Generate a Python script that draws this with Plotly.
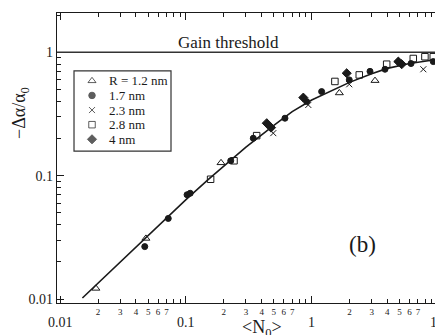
import numpy as np
import plotly.graph_objects as go

# ---------------- data ----------------
curve_n = [0.015, 0.02, 0.03, 0.05, 0.07, 0.1, 0.15, 0.2, 0.3, 0.5, 0.7, 1.0, 1.5, 2.0, 3.0, 4.0, 6.0, 9.6]
curve_y = [0.0102, 0.0135, 0.020, 0.033, 0.046, 0.064, 0.093, 0.120, 0.170, 0.256, 0.330, 0.410, 0.500, 0.570, 0.670, 0.740, 0.810, 0.870]

r12_n = [0.0192, 0.048, 0.19, 1.66, 3.19]
r12_y = [0.0122, 0.031, 0.127, 0.468, 0.589]

r17_n = [0.047, 0.0723, 0.102, 0.108, 0.227, 0.343, 0.613, 0.912, 1.20, 1.99, 2.91, 3.83, 6.17, 9.27]
r17_y = [0.0266, 0.045, 0.070, 0.072, 0.132, 0.201, 0.292, 0.398, 0.48, 0.597, 0.70, 0.728, 0.81, 0.84]

r23_n = [0.495, 0.94, 1.99, 7.73]
r23_y = [0.221, 0.374, 0.55, 0.728]

r28_n = [0.157, 0.241, 0.365, 1.53, 2.39, 3.95, 6.43, 7.96, 9.27]
r28_y = [0.0935, 0.132, 0.211, 0.58, 0.655, 0.80, 0.89, 0.92, 0.92]

r40_n = [0.439, 0.475, 0.858, 1.90, 4.89, 5.2]
r40_y = [0.266, 0.245, 0.429, 0.676, 0.84, 0.80]

legend_labels = ["R = 1.2 nm", "1.7 nm", "2.3 nm", "2.8 nm", "4 nm"]
legend_symbols = ["triangle-up-open", "circle", "x-thin-open", "square-open", "diamond"]

threshold = 1.0
threshold_label = "Gain threshold"
panel_label = "(b)"

x_major = [0.01, 0.1, 1, 10]
x_major_text = ["0.01", "0.1", "1", "10"]
minor_digits = [2, 3, 4, 5, 6, 7, 8, 9]
minor_text = {2: "2", 3: "3", 4: "4", 5: "5", 6: "6", 7: "7", 8: " ", 9: " "}
y_major = [0.01, 0.1, 1]
y_major_text = ["0.01", "0.1", "1"]

# ---------------- figure ----------------
FONT = "Liberation Serif, Times New Roman, serif"
INK = "#1a1a1a"

x_minor_vals, x_minor_txt = [], []
for dec in [0.01, 0.1, 1]:
    for d in minor_digits:
        x_minor_vals.append(d * dec)
        x_minor_txt.append(minor_text[d])
y_minor_vals = [d * dec for dec in [0.01, 0.1] for d in minor_digits] + [2]

xr = [-2.026, 0.981]
yr = [-2.032, 0.318]

fig = go.Figure()

# fitted curve (on the top twin axis, same scale, so that axis gets drawn)
fig.add_trace(go.Scatter(x=curve_n, y=curve_y, mode="lines", xaxis="x2", yaxis="y",
                         line=dict(color=INK, width=1.6), showlegend=False))

series = [
    (r12_n, r12_y, "triangle-up-open", 7),
    (r17_n, r17_y, "circle", 6),
    (r23_n, r23_y, "x-thin-open", 6),
    (r28_n, r28_y, "square-open", 6.5),
    (r40_n, r40_y, "diamond", 7),
]
for xs, ys, sym, sz in series:
    fig.add_trace(go.Scatter(x=xs, y=ys, mode="markers", showlegend=False,
                             marker=dict(symbol=sym, size=sz, color=INK,
                                         line=dict(color=INK, width=1))))

# hand-made legend: symbol samples in a tiny hidden subplot, labels as annotations
n_leg = len(legend_labels)
leg_idx = list(range(n_leg))
fig.add_trace(go.Scatter(
    x=[0] * n_leg, y=leg_idx, xaxis="x3", yaxis="y3", mode="markers",
    marker=dict(symbol=legend_symbols, size=[7, 6.5, 6, 6.5, 7], color=INK,
                line=dict(color=INK, width=1)),
    showlegend=False, cliponaxis=False))

# legend box geometry (paper units of the plot area)
LB_X0, LB_X1, LB_Y0, LB_Y1 = 0.045, 0.3016, 0.524, 0.8006
row_top, row_step = 0.7661, 0.0504  # paper y of first row, spacing between rows

hidden = dict(showgrid=False, zeroline=False, showline=False, ticks="",
              showticklabels=False, fixedrange=True, autorange=False)
axcommon = dict(type="log", showgrid=False, zeroline=False, showline=True,
                linecolor=INK, linewidth=1.3, ticks="inside", tickcolor=INK)

fig.update_layout(
    width=435, height=335,
    margin=dict(l=57, r=0, t=13, b=32),
    paper_bgcolor="white", plot_bgcolor="white",
    font=dict(family=FONT, color=INK),
    xaxis=dict(**axcommon, range=xr, tickmode="array", tickvals=x_minor_vals,
               ticktext=x_minor_txt, tickfont=dict(size=9, family=FONT), ticklen=4,
               minor=dict(tickmode="array", tickvals=x_major, ticks="inside",
                          ticklen=7, tickcolor=INK)),
    xaxis2=dict(**axcommon, range=xr, overlaying="x", side="top", anchor="y",
                tickmode="array", tickvals=x_minor_vals, showticklabels=False, ticklen=4,
                minor=dict(tickmode="array", tickvals=x_major, ticks="inside",
                           ticklen=7, tickcolor=INK)),
    yaxis=dict(**axcommon, range=yr, tickmode="array", tickvals=y_major,
               ticktext=y_major_text, tickfont=dict(size=14, family=FONT), ticklen=7,
               minor=dict(tickmode="array", tickvals=y_minor_vals, ticks="inside",
                          ticklen=4, tickcolor=INK)),
    xaxis3=dict(**hidden, domain=[0.0794, 0.1058], range=[-1, 1], anchor="y3"),
    yaxis3=dict(**hidden, domain=[row_top - row_step * (n_leg - 1), row_top],
                range=[n_leg - 1, 0], anchor="x3"),
)

# legend box
fig.add_shape(type="rect", xref="paper", yref="paper", x0=LB_X0, x1=LB_X1,
              y0=LB_Y0, y1=LB_Y1, line=dict(color="#333333", width=1.2))
for i, lab in enumerate(legend_labels):
    fig.add_annotation(text=lab, xref="paper", yref="paper", x=0.1323,
                       y=row_top - row_step * i, xanchor="left", yanchor="middle",
                       showarrow=False, font=dict(family=FONT, size=13, color=INK))

# gain threshold line
thr_paper = (np.log10(threshold) - yr[0]) / (yr[1] - yr[0])
fig.add_shape(type="line", xref="paper", yref="paper", x0=0, x1=1,
              y0=thr_paper, y1=thr_paper, line=dict(color="#333333", width=1.5))
fig.add_annotation(text=threshold_label, xref="paper", yref="paper", x=0.455,
                   y=thr_paper, yshift=10, xanchor="center", yanchor="middle",
                   showarrow=False, font=dict(family=FONT, size=17, color=INK))

# major x labels (paper coords so the one past the right edge is still drawn, cut off)
for v, t in zip(x_major, x_major_text):
    px = (np.log10(v) - xr[0]) / (xr[1] - xr[0])
    fig.add_annotation(text=t, xref="paper", yref="paper", x=px, y=0,
                       yshift=-19.5, xanchor="center", yanchor="middle", showarrow=False,
                       font=dict(family=FONT, size=14, color=INK))

# axis titles
fig.add_annotation(text="&lt;N<sub>0</sub>&gt;", xref="paper", yref="paper",
                   x=0.542, y=0, yshift=-25, xanchor="center", yanchor="middle",
                   showarrow=False, font=dict(family=FONT, size=18, color=INK))
fig.add_annotation(text="\u2212\u0394\u03b1/\u03b1<sub>0</sub>", xref="paper", yref="paper",
                   x=-0.098, y=0.655, xanchor="center", yanchor="middle", textangle=-90,
                   showarrow=False, font=dict(family=FONT, size=18, color=INK))

# panel label
fig.add_annotation(text=panel_label, xref="paper", yref="paper", x=0.808, y=0.203,
                   xanchor="center", yanchor="middle", showarrow=False,
                   font=dict(family=FONT, size=23, color=INK))

fig.write_html("out.html")
